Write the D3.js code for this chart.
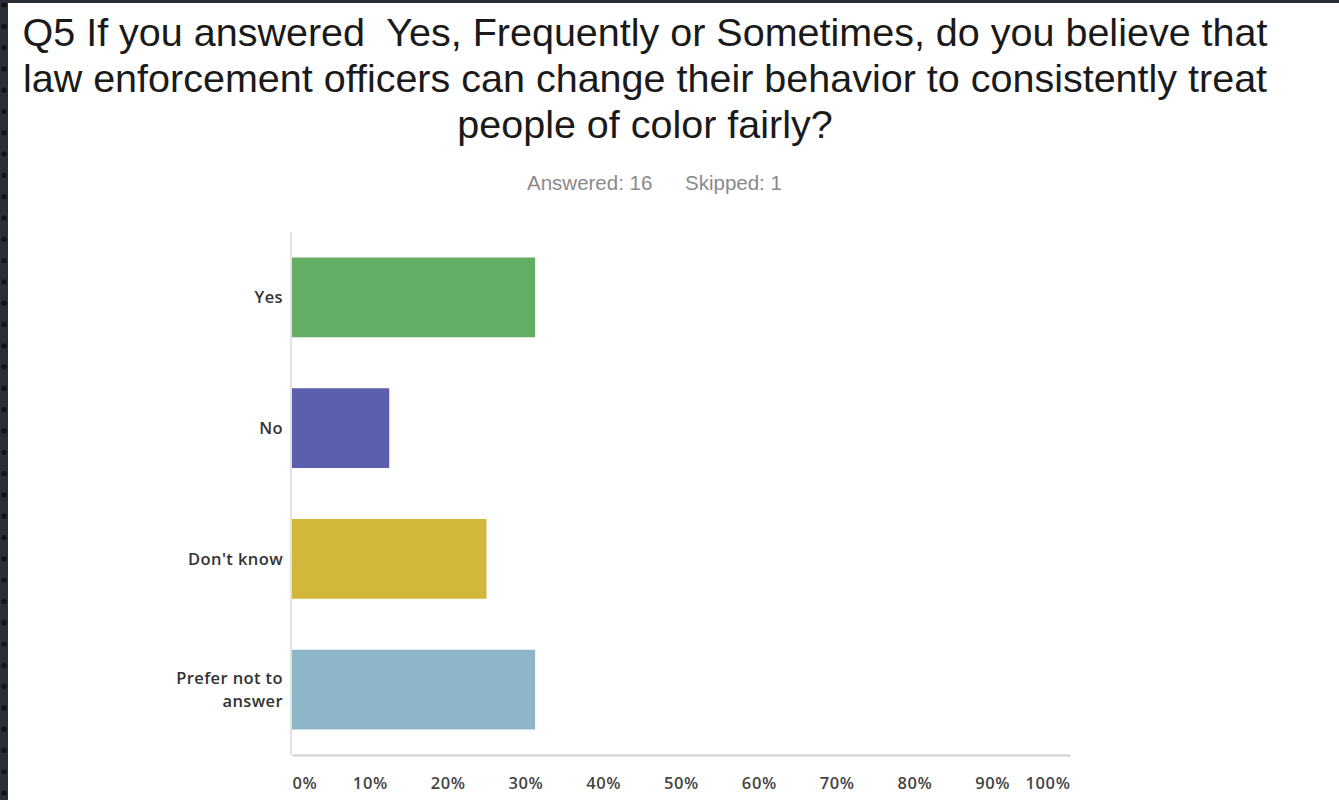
<!DOCTYPE html>
<html>
<head>
<meta charset="utf-8">
<script src="https://cdn.jsdelivr.net/npm/d3@7"></script>
<style>
  html, body { margin: 0; padding: 0; background: #fff; }
  svg { display: block; }
  text { white-space: pre; }
</style>
</head>
<body>
<svg id="chart" width="1339" height="800"></svg>
<script>
// ---- data ----
const categories = ["Yes", "No", "Don't know", "Prefer not to answer"];
const categoryLines = [["Yes"], ["No"], ["Don't know"], ["Prefer not to", "answer"]];
const values = [31.25, 12.5, 25, 31.25];
const colors = ["#64ad64", "#5c5fae", "#d2b73a", "#8db6c9"];
const tickValues = [0, 10, 20, 30, 40, 50, 60, 70, 80, 90, 100];
const tickLabels = ["0%", "10%", "20%", "30%", "40%", "50%", "60%", "70%", "80%", "90%", "100%"];
const titleLines = [
  "Q5 If you answered  Yes, Frequently or Sometimes, do you believe that",
  "law enforcement officers can change their behavior to consistently treat",
  "people of color fairly?"
];
const answeredText = "Answered: 16";
const skippedText = "Skipped: 1";

// ---- layout ----
const svg = d3.select("#chart");
const plot = { left: 292, right: 1070, top: 232, bottom: 755 };

// dark frame (photo border)
svg.append("rect").attr("x", 0).attr("y", 0).attr("width", 8).attr("height", 800).attr("fill", "#2b2e34");
svg.append("rect").attr("x", 0).attr("y", 0).attr("width", 1339).attr("height", 3).attr("fill", "#2b2e34");
svg.append("g").selectAll("circle")
  .data(d3.range(5, 800, 21.3))
  .join("circle")
  .attr("cx", 4).attr("cy", d => d).attr("r", 2.6).attr("fill", "#111316");

// title
const title = svg.append("text")
  .attr("font-family", "'Liberation Sans', Arial, sans-serif")
  .attr("font-size", 39.5)
  .attr("fill", "#1a1a1a")
  .attr("text-anchor", "middle")
  .attr("xml:space", "preserve");
title.selectAll("tspan")
  .data(titleLines)
  .join("tspan")
  .attr("x", 645)
  .attr("y", (d, i) => 46 + i * 46)
  .text(d => d);

// answered / skipped
svg.append("text")
  .attr("x", 527).attr("y", 190)
  .attr("font-family", "'Liberation Sans', Arial, sans-serif")
  .attr("font-size", 20.5).attr("fill", "#8a8a8a")
  .text(answeredText);
svg.append("text")
  .attr("x", 685).attr("y", 190)
  .attr("font-family", "'Liberation Sans', Arial, sans-serif")
  .attr("font-size", 20.5).attr("fill", "#8a8a8a")
  .text(skippedText);

// scales
const x = d3.scaleLinear().domain([0, 100]).range([plot.left, plot.right]);
const y = d3.scaleBand().domain(categories).range([plot.top, plot.bottom])
  .paddingInner(0.39).paddingOuter(0.195);

// bars
svg.append("g").selectAll("rect")
  .data(categories)
  .join("rect")
  .attr("x", x(0))
  .attr("y", d => y(d))
  .attr("width", (d, i) => x(values[i]) - x(0))
  .attr("height", y.bandwidth())
  .attr("fill", (d, i) => colors[i]);

// y axis line
svg.append("line")
  .attr("x1", plot.left - 1).attr("x2", plot.left - 1)
  .attr("y1", plot.top).attr("y2", plot.bottom)
  .attr("stroke", "#d8d8d8").attr("stroke-width", 1.5);

// x axis
const xAxis = d3.axisBottom(x)
  .tickValues(tickValues)
  .tickSize(0)
  .tickPadding(34)
  .tickFormat((d, i) => tickLabels[i]);
const gx = svg.append("g").attr("transform", `translate(0,${plot.bottom})`).call(xAxis);
gx.select(".domain").attr("stroke", "#cfcfcf").attr("stroke-width", 2);
gx.selectAll("text")
  .attr("font-family", "'Open Sans', sans-serif")
  .attr("font-weight", 600)
  .attr("font-size", 16.5)
  .attr("letter-spacing", 0.6)
  .attr("fill", "#444")
  .attr("dy", 0)
  .attr("text-anchor", (d, i) => i === 0 ? "start" : (i === tickValues.length - 1 ? "end" : "middle"));

// category labels
const labels = svg.append("g").selectAll("text")
  .data(categories)
  .join("text")
  .attr("font-family", "'Open Sans', sans-serif")
  .attr("font-weight", 600)
  .attr("font-size", 16.5)
  .attr("letter-spacing", 0.4)
  .attr("fill", "#333")
  .attr("text-anchor", "end");
labels.each(function(d, i) {
  const lines = categoryLines[i];
  const cy = y(d) + y.bandwidth() / 2;
  const lh = 23;
  d3.select(this).selectAll("tspan")
    .data(lines)
    .join("tspan")
    .attr("x", 283)
    .attr("y", (l, j) => cy + 6 + (j - (lines.length - 1) / 2) * lh)
    .text(l => l);
});
</script>
</body>
</html>
